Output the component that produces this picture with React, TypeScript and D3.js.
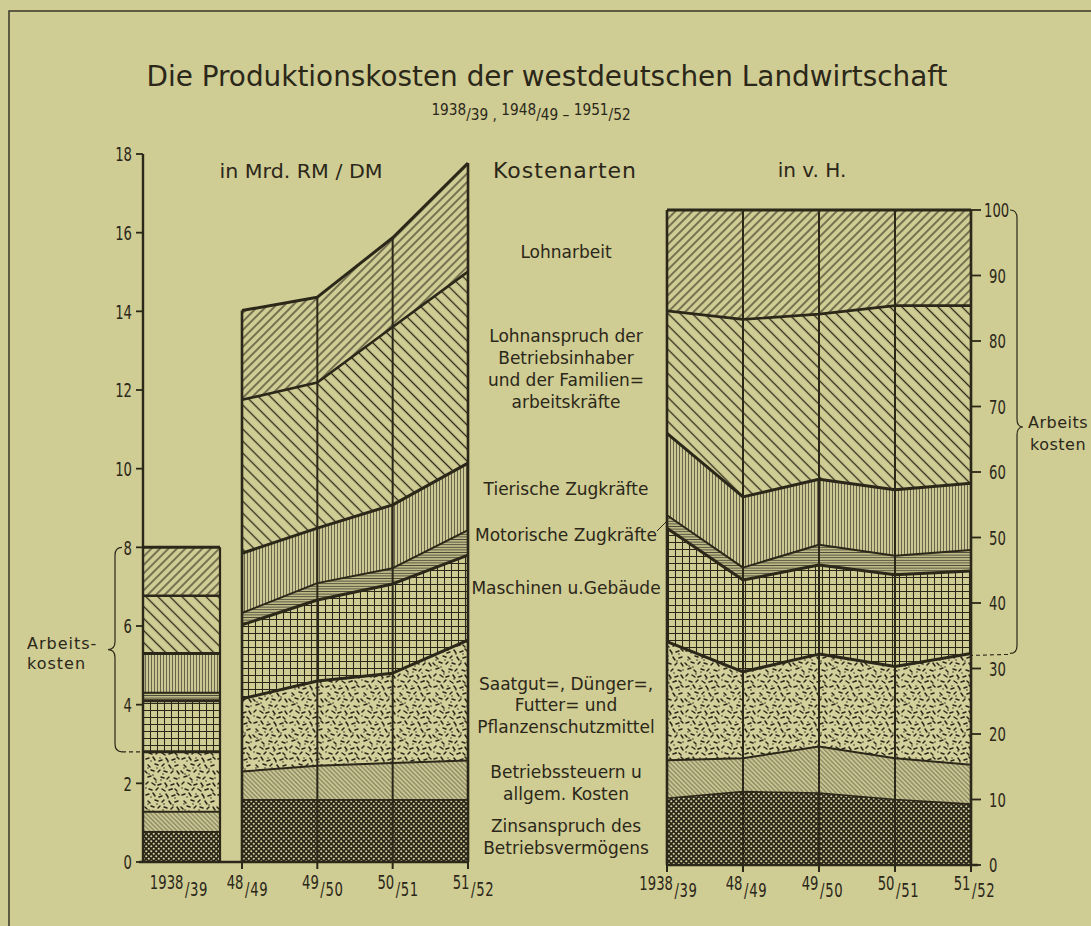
import React from "react";
import * as d3 from "d3";

// ---------- DATA ----------
const seriesKeys = [
  "zins",
  "steuern",
  "saatgut",
  "maschinen",
  "motorische",
  "tierische",
  "lohnanspruch",
  "lohnarbeit",
];

const years = ["1938/39", "48/49", "49/50", "50/51", "51/52"];
const postwarYears = ["48/49", "49/50", "50/51", "51/52"];

// in Mrd. RM/DM, per cost type, order: 1938/39, 48/49, 49/50, 50/51, 51/52
const zinsAbs = [0.77, 1.58, 1.58, 1.58, 1.58];
const steuernAbs = [0.51, 0.72, 0.87, 0.94, 1.0];
const saatgutAbs = [1.52, 1.85, 2.15, 2.28, 3.06];
const maschinenAbs = [1.3, 1.88, 2.06, 2.27, 2.16];
const motorischeAbs = [0.2, 0.3, 0.43, 0.4, 0.64];
const tierischeAbs = [1.0, 1.52, 1.4, 1.61, 1.7];
const lohnanspruchAbs = [1.47, 3.9, 3.7, 4.52, 4.87];
const lohnarbeitAbs = [1.23, 2.27, 2.17, 2.27, 2.76];

// in v. H. (percent of total), same order
const zinsPct = [10.2, 11.2, 11.0, 10.0, 9.3];
const steuernPct = [5.8, 5.1, 7.1, 6.3, 6.0];
const saatgutPct = [18.1, 13.2, 14.1, 14.0, 17.0];
const maschinenPct = [17.3, 14.0, 13.6, 14.0, 12.6];
const motorischePct = [2.0, 1.9, 3.1, 2.9, 3.2];
const tierischePct = [12.5, 10.8, 10.0, 10.1, 10.2];
const lohnanspruchPct = [18.7, 27.1, 25.2, 28.1, 27.1];
const lohnarbeitPct = [15.4, 16.7, 15.9, 14.6, 14.6];

const leftTicks = [0, 2, 4, 6, 8, 10, 12, 14, 16, 18];
const rightTicks = [0, 10, 20, 30, 40, 50, 60, 70, 80, 90, 100];

const categoryLabels = [
  { lines: ["Lohnarbeit"], y: [258] },
  {
    lines: ["Lohnanspruch der", "Betriebsinhaber", "und der Familien=", "arbeitskräfte"],
    y: [342, 364, 386, 408],
  },
  { lines: ["Tierische Zugkräfte"], y: [495] },
  { lines: ["Motorische Zugkräfte"], y: [541] },
  { lines: ["Maschinen u.Gebäude"], y: [594] },
  { lines: ["Saatgut=, Dünger=,", "Futter= und", "Pflanzenschutzmittel"], y: [690, 711, 733] },
  { lines: ["Betriebssteuern u", "allgem. Kosten"], y: [778, 800] },
  { lines: ["Zinsanspruch des", "Betriebsvermögens"], y: [832, 854] },
];

// ---------- STYLE ----------
const BG = "#cfcc94";
const INK = "#2b2719";
const GREY = "#4f4b39";
const FONT_TEXT = "'DejaVu Sans', 'Liberation Sans', sans-serif";
const FONT_NUM = "'DejaVu Sans', 'Liberation Sans', sans-serif";
const DIGIT_W = 8.4;
const NUM_SCALE = 0.66; // horizontal squeeze to imitate the condensed numerals
const NUM_ADV = 0.636 * 20 * NUM_SCALE; // approx. advance of one digit at 20px
const SLASH_ADV = 0.337 * 20 * NUM_SCALE;

const patternIds: Record<string, string> = {
  zins: "pZins",
  steuern: "pSteuern",
  saatgut: "pSaatgut",
  maschinen: "pMasch",
  motorische: "pMotor",
  tierische: "pTier",
  lohnanspruch: "pLohnA",
  lohnarbeit: "pLohnB",
};
const boundaryWidth: Record<string, number> = {
  zins: 1.6,
  steuern: 2,
  saatgut: 3,
  maschinen: 3,
  motorische: 2,
  tierische: 3,
  lohnanspruch: 2.6,
  lohnarbeit: 3,
};

const specks: number[][] = [
  [2, 3, 5, 2], [9, 1, 11, 4], [15, 5, 18, 4], [22, 2, 24, 5], [28, 4, 31, 3], [33, 1, 35, 3],
  [4, 9, 6, 11], [11, 8, 14, 9], [18, 10, 20, 8], [25, 9, 27, 12], [31, 10, 34, 9],
  [1, 15, 3, 17], [7, 14, 10, 15], [14, 16, 16, 14], [20, 15, 23, 16], [27, 17, 29, 15], [33, 15, 35, 18],
  [4, 21, 7, 20], [10, 22, 12, 24], [17, 21, 20, 22], [23, 23, 25, 21], [30, 22, 33, 23],
  [2, 28, 4, 26], [8, 27, 11, 29], [14, 29, 17, 28], [21, 27, 23, 30], [27, 29, 30, 28], [33, 27, 35, 30],
  [5, 33, 8, 34], [12, 34, 14, 32], [18, 33, 21, 35], [25, 34, 28, 33], [31, 33, 33, 35],
];
const speckDots: number[][] = [
  [7, 5], [13, 12], [24, 6], [29, 13], [5, 18], [19, 18], [12, 26], [26, 25], [35, 22], [2, 32], [22, 31], [16, 2],
  [9, 19], [31, 6], [17, 24], [4, 12], [28, 33], [20, 12],
];

// a year label like "48/49": numerator raised, slash + denominator lowered
function Fraction({ cx, y, label, drop }: any) {
  const [a, b] = label.split("/");
  const numW = a.length * NUM_ADV;
  const denW = SLASH_ADV + b.length * NUM_ADV + 1;
  const gap = 1.5;
  const x0 = cx - (numW + gap + denW) / 2;
  const xm = x0 + numW;
  return (
    <g fontFamily={FONT_NUM} fontSize={20} fill={INK}>
      <text transform={`translate(${xm},${y}) scale(${NUM_SCALE},1)`} textAnchor="end">
        {a}
      </text>
      <text transform={`translate(${xm + gap},${y + drop}) scale(${NUM_SCALE},1)`} letterSpacing={1}>
        /{b}
      </text>
    </g>
  );
}

export default function App() {
  const W = 1091;
  const H = 926;

  const yL = d3.scaleLinear().domain([0, 18]).range([862, 154]);
  const xL = d3.scalePoint<string>().domain(postwarYears).range([242, 468]);
  const yR = d3.scaleLinear().domain([0, 100]).range([865, 210]);
  const xR = d3.scalePoint<string>().domain(years).range([667, 971]);
  const barX0 = 143;
  const barX1 = 220;

  const absSeries: Record<string, number[]> = {
    zins: zinsAbs, steuern: steuernAbs, saatgut: saatgutAbs, maschinen: maschinenAbs,
    motorische: motorischeAbs, tierische: tierischeAbs, lohnanspruch: lohnanspruchAbs, lohnarbeit: lohnarbeitAbs,
  };
  const pctSeries: Record<string, number[]> = {
    zins: zinsPct, steuern: steuernPct, saatgut: saatgutPct, maschinen: maschinenPct,
    motorische: motorischePct, tierische: tierischePct, lohnanspruch: lohnanspruchPct, lohnarbeit: lohnarbeitPct,
  };
  const absRows = years.map((yr, i) => {
    const r: any = { year: yr };
    seriesKeys.forEach((k) => (r[k] = absSeries[k][i]));
    return r;
  });
  const pctRows = years.map((yr, i) => {
    const r: any = { year: yr };
    seriesKeys.forEach((k) => (r[k] = pctSeries[k][i]));
    return r;
  });
  const stack = d3.stack<any>().keys(seriesKeys);
  const absStack = stack(absRows);
  const pctStack = stack(pctRows);

  const areaL = d3
    .area<any>()
    .x((d) => xL(d.data.year) as number)
    .y0((d) => yL(d[0]))
    .y1((d) => yL(d[1]));
  const lineL = d3
    .line<any>()
    .x((d) => xL(d.data.year) as number)
    .y((d) => yL(d[1]));
  const areaR = d3
    .area<any>()
    .x((d) => xR(d.data.year) as number)
    .y0((d) => yR(d[0]))
    .y1((d) => yR(d[1]));
  const lineR = d3
    .line<any>()
    .x((d) => xR(d.data.year) as number)
    .y((d) => yR(d[1]));

  const postAbs = absStack.map((s) => s.slice(1));
  const topLeft = postAbs[postAbs.length - 1];
  const prewar = absStack.map((s) => s[0]);
  const topRight = pctStack[pctStack.length - 1];

  // braces
  const lb0 = yL(8);
  const lb1 = yL(prewar[2][1]);
  const lbx = 115;
  const lbMid = (lb0 + lb1) / 2;
  const leftBrace = `M${lbx + 7},${lb0} Q${lbx},${lb0} ${lbx},${lb0 + 8} L${lbx},${lbMid - 8} Q${lbx},${lbMid} ${lbx - 7},${lbMid} Q${lbx},${lbMid} ${lbx},${lbMid + 8} L${lbx},${lb1 - 8} Q${lbx},${lb1} ${lbx + 7},${lb1}`;

  const rb0 = yR(100);
  const rb1 = yR(pctStack[2][4][1]);
  const rbx = 1017;
  const rbMid = 427;
  const rightBrace = `M${rbx - 7},${rb0} Q${rbx},${rb0} ${rbx},${rb0 + 8} L${rbx},${rbMid - 8} Q${rbx},${rbMid} ${rbx + 6},${rbMid} Q${rbx},${rbMid} ${rbx},${rbMid + 8} L${rbx},${rb1 - 8} Q${rbx},${rb1} ${rbx - 7},${rb1}`;

  return (
    <svg
      width={W}
      height={H}
      viewBox={`0 0 ${W} ${H}`}
      style={{ position: "absolute", left: 0, top: 0, background: BG }}
    >
      <defs>
        <pattern id="pZins" width={5} height={5} patternUnits="userSpaceOnUse">
          <rect width={5} height={5} fill={INK} />
          <circle cx={1.25} cy={1.25} r={1.05} fill="#d6d3a4" />
          <circle cx={3.75} cy={3.75} r={1.05} fill="#d6d3a4" />
        </pattern>
        <pattern id="pSteuern" width={3.2} height={3.2} patternUnits="userSpaceOnUse" patternTransform="rotate(-45)">
          <rect width={3.2} height={3.2} fill="#cac792" />
          <line x1={1.6} y1={0} x2={1.6} y2={3.2} stroke="#615d48" strokeWidth={0.8} />
        </pattern>
        <pattern id="pSaatgut" width={36} height={36} patternUnits="userSpaceOnUse">
          <rect width={36} height={36} fill="#d3d09c" />
          {specks.map((s, i) => (
            <line key={i} x1={s[0]} y1={s[1]} x2={s[2]} y2={s[3]} stroke={INK} strokeWidth={1.5} strokeLinecap="round" />
          ))}
          {speckDots.map((p, i) => (
            <circle key={i} cx={p[0]} cy={p[1]} r={0.75} fill={INK} />
          ))}
        </pattern>
        <pattern id="pMasch" width={7} height={7} patternUnits="userSpaceOnUse">
          <rect width={7} height={7} fill={BG} />
          <path d="M0,3.5H7M3.5,0V7" stroke={INK} strokeWidth={1.05} />
        </pattern>
        <pattern id="pMotor" width={4} height={2.6} patternUnits="userSpaceOnUse">
          <rect width={4} height={2.6} fill="#bcb986" />
          <line x1={0} y1={1.3} x2={4} y2={1.3} stroke={GREY} strokeWidth={0.9} />
        </pattern>
        <pattern id="pTier" width={3} height={4} patternUnits="userSpaceOnUse">
          <rect width={3} height={4} fill="#cac792" />
          <line x1={1.5} y1={0} x2={1.5} y2={4} stroke="#57533f" strokeWidth={0.85} />
        </pattern>
        <pattern id="pLohnA" width={8.5} height={8.5} patternUnits="userSpaceOnUse" patternTransform="rotate(-45)">
          <rect width={8.5} height={8.5} fill={BG} />
          <line x1={4.25} y1={0} x2={4.25} y2={8.5} stroke={INK} strokeWidth={1.3} />
        </pattern>
        <pattern id="pLohnB" width={6} height={6} patternUnits="userSpaceOnUse" patternTransform="rotate(45)">
          <rect width={6} height={6} fill={BG} />
          <line x1={3} y1={0} x2={3} y2={6} stroke={INK} strokeWidth={1.1} />
        </pattern>
      </defs>

      <rect x={0} y={0} width={W} height={H} fill={BG} />
      {/* frame */}
      <path d={`M9,${H} V11 H${W}`} fill="none" stroke="#3a3628" strokeWidth={1.5} />

      {/* title */}
      <text x={547} y={86} fontFamily={FONT_NUM} fontSize={29} fill={INK} textAnchor="middle" textLength={801} lengthAdjust="spacingAndGlyphs">
        Die Produktionskosten  der westdeutschen Landwirtschaft
      </text>
      <text
        transform="translate(531,115) scale(0.83,1)"
        fontFamily={FONT_NUM}
        fontSize={16.5}
        fill={INK}
        textAnchor="middle"
      >
        1938<tspan dy={5}>/39 , </tspan><tspan dy={-5}>1948</tspan><tspan dy={5}>/49 – </tspan><tspan dy={-5}>1951</tspan><tspan dy={5}>/52</tspan>
      </text>

      {/* headers */}
      <text x={301} y={178} fontFamily={FONT_TEXT} fontSize={20} fill={INK} textAnchor="middle" textLength={163} lengthAdjust="spacingAndGlyphs">
        in Mrd. RM / DM
      </text>
      <text x={565} y={178} fontFamily={FONT_TEXT} fontSize={22} fill={INK} textAnchor="middle" letterSpacing={1}>
        Kostenarten
      </text>
      <text x={812} y={177} fontFamily={FONT_TEXT} fontSize={20} fill={INK} textAnchor="middle">
        in v. H.
      </text>

      {/* ---------- LEFT CHART ---------- */}
      {/* 1938/39 bar */}
      {prewar.map((d, i) => (
        <rect
          key={"b" + i}
          x={barX0}
          y={yL(d[1])}
          width={barX1 - barX0}
          height={yL(d[0]) - yL(d[1])}
          fill={`url(#${patternIds[seriesKeys[i]]})`}
        />
      ))}
      {prewar.map((d, i) => (
        <line
          key={"bl" + i}
          x1={barX0}
          x2={barX1}
          y1={yL(d[1])}
          y2={yL(d[1])}
          stroke={INK}
          strokeWidth={boundaryWidth[seriesKeys[i]]}
        />
      ))}
      <line x1={barX1} x2={barX1} y1={yL(8)} y2={yL(0)} stroke={INK} strokeWidth={2.2} />

      {/* stacked areas 48/49–51/52 */}
      {postAbs.map((s, i) => (
        <path key={"a" + i} d={areaL(s) as string} fill={`url(#${patternIds[seriesKeys[i]]})`} />
      ))}
      {postAbs.map((s, i) => (
        <path
          key={"l" + i}
          d={lineL(s) as string}
          fill="none"
          stroke={INK}
          strokeWidth={boundaryWidth[seriesKeys[i]]}
          strokeLinejoin="round"
        />
      ))}
      {topLeft.map((d: any, i: number) => (
        <line
          key={"v" + i}
          x1={xL(d.data.year)}
          x2={xL(d.data.year)}
          y1={yL(0)}
          y2={yL(d[1])}
          stroke={INK}
          strokeWidth={i === 0 || i === topLeft.length - 1 ? 2.6 : 2}
        />
      ))}

      {/* left y axis */}
      <line x1={barX0} x2={barX0} y1={yL(18)} y2={yL(0)} stroke={INK} strokeWidth={2.4} />
      {leftTicks.map((t) => (
        <g key={"lt" + t}>
          <line x1={barX0 - 7} x2={barX0} y1={yL(t)} y2={yL(t)} stroke={INK} strokeWidth={1.8} />
          <text
            x={barX0 - 11}
            y={yL(t)}
            dy="0.36em"
            fontFamily={FONT_NUM}
            fontSize={20}
            fill={INK}
            textAnchor="end"
            textLength={String(t).length * DIGIT_W}
            lengthAdjust="spacingAndGlyphs"
          >
            {t}
          </text>
        </g>
      ))}
      {/* left x axis */}
      <line x1={barX0 - 4} x2={xL("51/52") as number} y1={yL(0)} y2={yL(0)} stroke={INK} strokeWidth={2.4} />
      {postwarYears.map((yr) => (
        <line key={"xt" + yr} x1={xL(yr)} x2={xL(yr)} y1={yL(0)} y2={yL(0) + 7} stroke={INK} strokeWidth={2} />
      ))}
      <Fraction cx={178.5} y={889} label={years[0]} drop={7} />
      {postwarYears.map((yr) => (
        <Fraction key={"xl" + yr} cx={(xL(yr) as number) + 5} y={889} label={yr} drop={7} />
      ))}

      {/* left brace */}
      <path d={leftBrace} fill="none" stroke={INK} strokeWidth={1.2} />
      <line x1={lbx + 7} x2={barX0} y1={lb1} y2={lb1} stroke={INK} strokeWidth={1.1} strokeDasharray="4,3" />
      <text x={27} y={649} fontFamily={FONT_TEXT} fontSize={16} fill={INK} letterSpacing={1}>
        Arbeits-
      </text>
      <text x={27} y={669} fontFamily={FONT_TEXT} fontSize={16} fill={INK} letterSpacing={1}>
        kosten
      </text>

      {/* ---------- MIDDLE LABELS ---------- */}
      {categoryLabels.map((c, i) =>
        c.lines.map((ln, j) => (
          <text
            key={"c" + i + "_" + j}
            x={566}
            y={c.y[j]}
            fontFamily={FONT_TEXT}
            fontSize={17}
            fill={INK}
            textAnchor="middle"
          >
            {ln}
          </text>
        ))
      )}
      <line x1={657} y1={531} x2={667} y2={521} stroke={INK} strokeWidth={1} />

      {/* ---------- RIGHT CHART ---------- */}
      {pctStack.map((s, i) => (
        <path key={"ra" + i} d={areaR(s as any) as string} fill={`url(#${patternIds[seriesKeys[i]]})`} />
      ))}
      {pctStack.map((s, i) => (
        <path
          key={"rl" + i}
          d={lineR(s as any) as string}
          fill="none"
          stroke={INK}
          strokeWidth={boundaryWidth[seriesKeys[i]]}
          strokeLinejoin="round"
        />
      ))}
      {topRight.map((d: any, i: number) => (
        <line
          key={"rv" + i}
          x1={xR(d.data.year)}
          x2={xR(d.data.year)}
          y1={yR(0)}
          y2={yR(d[1])}
          stroke={INK}
          strokeWidth={i === 0 || i === topRight.length - 1 ? 2.6 : 2}
        />
      ))}
      {/* right axis */}
      {rightTicks.map((t) => (
        <g key={"rt" + t}>
          <line x1={971} x2={981} y1={yR(t)} y2={yR(t)} stroke={INK} strokeWidth={1.8} />
          <text
            x={t === 100 ? 984 : 989}
            y={yR(t)}
            dy="0.36em"
            fontFamily={FONT_NUM}
            fontSize={20}
            fill={INK}
            textLength={String(t).length * DIGIT_W}
            lengthAdjust="spacingAndGlyphs"
          >
            {t}
          </text>
        </g>
      ))}
      <line x1={xR(years[0]) as number} x2={978} y1={yR(0)} y2={yR(0)} stroke={INK} strokeWidth={2.4} />
      {years.map((yr) => (
        <line key={"rxt" + yr} x1={xR(yr)} x2={xR(yr)} y1={yR(0)} y2={yR(0) + 7} stroke={INK} strokeWidth={2} />
      ))}
      {years.map((yr, i) => (
        <Fraction key={"rxl" + yr} cx={(xR(yr) as number) + (i === 0 ? 1 : 3)} y={890} label={yr} drop={7} />
      ))}

      {/* right brace */}
      <path d={rightBrace} fill="none" stroke={INK} strokeWidth={1.2} />
      <line x1={rbx - 9} x2={971} y1={rb1 + 1} y2={rb1 + 2} stroke={INK} strokeWidth={1.1} strokeDasharray="4,3" />
      <text x={1028} y={428} fontFamily={FONT_TEXT} fontSize={16} fill={INK} letterSpacing={0.5}>
        Arbeits
      </text>
      <text x={1030} y={450} fontFamily={FONT_TEXT} fontSize={16} fill={INK} letterSpacing={0.5}>
        kosten
      </text>
    </svg>
  );
}
